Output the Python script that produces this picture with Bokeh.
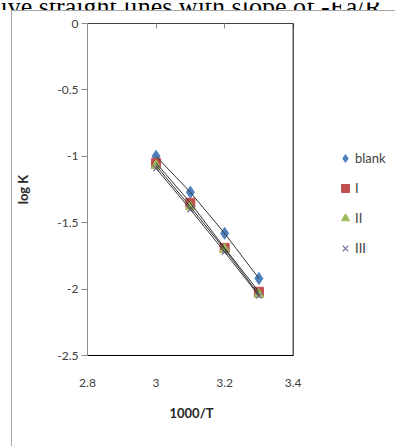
from bokeh.plotting import figure
from bokeh.layouts import column, row
from bokeh.models import (Range1d, FixedTicker, CustomJSTickFormatter, LinearAxis,
                          Legend, LegendItem, Spacer, Span, Title)
from bokeh.core.properties import value
from bokeh.embed import file_html
from bokeh.resources import INLINE

# ---- data ----
x_vals = [3.0, 3.1, 3.2, 3.3]
blank = [-1.00, -1.27, -1.58, -1.92]
s_I = [-1.05, -1.35, -1.69, -2.02]
s_II = [-1.07, -1.38, -1.70, -2.04]
s_III = [-1.09, -1.40, -1.72, -2.05]
series_names = ["blank", "I", "II", "III"]
x_ticks = [2.8, 3.0, 3.2, 3.4]
y_ticks = [0, -0.5, -1, -1.5, -2, -2.5]
x_lo, x_hi = 2.8, 3.4
y_lo, y_hi = -2.5, 0.0
header_text = ["give straight lines with slope of  -Ea/R"]

FONT = "Lato"
TXT = "#404040"

# pixel geometry of the plot area
PLOT_W = 207          # width of the 2.8..3.4 plot box
FRAME_W = 311         # frame runs on to the right edge (room for the legend)
x_end = x_lo + (x_hi - x_lo) * FRAME_W / PLOT_W

# ---- header strip (document text cut at the top edge) ----
hdr = figure(width=396, height=10, x_range=Range1d(0, 396), y_range=Range1d(0, 10),
             output_backend="svg", toolbar_location=None,
             x_axis_location=None, y_axis_location=None, min_border=0)
hdr.xgrid.visible = False
hdr.ygrid.visible = False
hdr.outline_line_color = None
hdr.text(x=[-13], y=[6], text=header_text, text_font=value("Liberation Serif"),
         text_font_size="26px", text_color="black", text_baseline="alphabetic")

# ---- main chart ----
p = figure(width=384, height=436, x_range=Range1d(x_lo, x_end), y_range=Range1d(y_lo, y_hi),
           output_backend="svg", toolbar_location=None,
           min_border_left=73, min_border_right=0, min_border_top=12, min_border_bottom=92,
           styles={"border-left": "1px solid #a6a6a6", "border-top": "1px solid #a6a6a6"})
p.xgrid.visible = False
p.ygrid.visible = False
p.outline_line_color = None

fmt = CustomJSTickFormatter(code="return tick.toString();")

xa = p.xaxis[0]
xa.ticker = FixedTicker(ticks=x_ticks)
xa.bounds = (x_lo, x_hi)
xa.formatter = fmt
xa.major_tick_out = 0
xa.major_tick_in = 0
xa.minor_tick_out = 0
xa.minor_tick_in = 0
xa.axis_line_color = "black"
xa.major_label_standoff = 23
xa.major_label_text_font = FONT
xa.major_label_text_font_size = "12px"
xa.major_label_text_color = TXT

# x-axis title, centred under the 2.8..3.4 box
p.add_layout(Title(text="1000/T", align="left", offset=82,
                   text_font=FONT, text_font_size="13px", text_font_style="bold",
                   text_color="#262626", standoff=27), "below")

ya = p.yaxis[0]
ya.ticker = FixedTicker(ticks=y_ticks)
ya.formatter = fmt
ya.major_tick_out = 6
ya.major_tick_in = 0
ya.minor_tick_out = 0
ya.minor_tick_in = 0
ya.axis_line_color = "#8c8c8c"
ya.major_tick_line_color = "#8c8c8c"
ya.major_label_standoff = 3
ya.major_label_text_font = FONT
ya.major_label_text_font_size = "12px"
ya.major_label_text_color = TXT
ya.axis_label = "log K"
ya.axis_label_text_font = FONT
ya.axis_label_text_font_size = "13px"
ya.axis_label_text_font_style = "bold"
ya.axis_label_text_color = "#262626"
ya.axis_label_standoff = 23

top = LinearAxis(ticker=FixedTicker(ticks=x_ticks), formatter=fmt, bounds=(x_lo, x_hi),
                 major_tick_in=5, major_tick_out=0, minor_tick_in=0, minor_tick_out=0,
                 axis_line_color="#404040", major_tick_line_color="#8c8c8c",
                 major_label_text_font_size="0px", major_label_standoff=0)
p.add_layout(top, "above")

# right edge of the plot area
p.add_layout(Span(location=x_hi, dimension="height", line_color="black", line_width=1))

styles = {
    "blank": dict(marker="diamond", size=12, fill_color="#4F81BD", line_color="#4F81BD"),
    "I": dict(marker="square", size=9, fill_color="#C0504D", line_color="#C0504D"),
    "II": dict(marker="triangle", size=10, fill_color="#9BBB59", line_color="#9BBB59"),
    "III": dict(marker="x", size=8, line_color="#8064A2", line_width=1.2),
}
series_vals = [blank, s_I, s_II, s_III]

renderers = []
for name, ys in zip(series_names, series_vals):
    renderers.append(p.scatter(x_vals, ys, **styles[name]))
for ys in series_vals:
    p.line(x_vals, ys, line_color="#333333", line_width=1)

legend = Legend(items=[LegendItem(label=n, renderers=[r]) for n, r in zip(series_names, renderers)],
                location=(248, 95), orientation="vertical",
                border_line_color=None, background_fill_alpha=0,
                padding=0, margin=0, spacing=6, glyph_width=20, glyph_height=24,
                label_height=24, label_standoff=0,
                label_text_font=FONT, label_text_font_size="13px", label_text_color=TXT)
p.add_layout(legend)

layout = column(hdr, row(Spacer(width=11, height=436), p))
open("out.html", "w").write(file_html(layout, INLINE))
